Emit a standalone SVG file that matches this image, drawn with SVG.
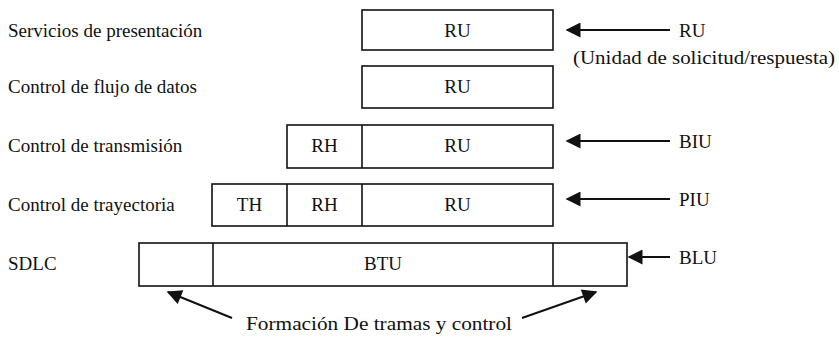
<svg xmlns="http://www.w3.org/2000/svg" width="839" height="350" viewBox="0 0 839 350">
<style>
text{font-family:"Liberation Serif","Times New Roman",serif;font-size:19px;fill:#111}
.c{text-anchor:middle}
.b{fill:#fff;stroke:#111;stroke-width:1.6}
.a{stroke:#111;stroke-width:2;fill:none}
</style>
<defs>
<marker id="ahl" viewBox="0 0 10 10" refX="9" refY="5" markerWidth="16" markerHeight="15" markerUnits="userSpaceOnUse" orient="auto">
<path d="M0,0 L10,5 L0,10 z" fill="#111"/>
</marker>
</defs>
<g id="layer-labels">
<text x="8" y="37">Servicios de presentación</text>
<text x="8" y="93">Control de flujo de datos</text>
<text x="8" y="152">Control de transmisión</text>
<text x="8" y="211">Control de trayectoria</text>
<text x="8" y="270">SDLC</text>
</g>
<g id="row1">
<rect class="b" x="362" y="10" width="191" height="40"/>
<text class="c" x="457.5" y="37">RU</text>
</g>
<g id="row2">
<rect class="b" x="362" y="66" width="191" height="42"/>
<text class="c" x="457.5" y="93">RU</text>
</g>
<g id="row3">
<rect class="b" x="287" y="125" width="266" height="43"/>
<line class="b" x1="362" y1="125" x2="362" y2="168"/>
<text class="c" x="324.5" y="152">RH</text>
<text class="c" x="457.5" y="152">RU</text>
</g>
<g id="row4">
<rect class="b" x="212" y="184" width="341" height="42"/>
<line class="b" x1="287" y1="184" x2="287" y2="226"/>
<line class="b" x1="362" y1="184" x2="362" y2="226"/>
<text class="c" x="249.5" y="211">TH</text>
<text class="c" x="324.5" y="211">RH</text>
<text class="c" x="457.5" y="211">RU</text>
</g>
<g id="row5">
<rect class="b" x="139" y="243" width="488" height="43"/>
<line class="b" x1="213" y1="243" x2="213" y2="286"/>
<line class="b" x1="553" y1="243" x2="553" y2="286"/>
<text class="c" x="383" y="270">BTU</text>
</g>
<g id="unit-labels">
<text x="679" y="37">RU</text>
<text x="573" y="64" textLength="262" lengthAdjust="spacingAndGlyphs">(Unidad de solicitud/respuesta)</text>
<text x="679" y="148">BIU</text>
<text x="679" y="206">PIU</text>
<text x="679" y="264">BLU</text>
<text x="246" y="330" textLength="266" lengthAdjust="spacingAndGlyphs">Formación De tramas y control</text>
</g>
<g id="connectors">
<line class="a" x1="670" y1="30" x2="567" y2="30" marker-end="url(#ahl)"/>
<line class="a" x1="670" y1="141" x2="567" y2="141" marker-end="url(#ahl)"/>
<line class="a" x1="670" y1="199" x2="567" y2="199" marker-end="url(#ahl)"/>
<line class="a" x1="670" y1="257" x2="629" y2="257" marker-end="url(#ahl)"/>
<line class="a" x1="232" y1="318" x2="168" y2="292" marker-end="url(#ahl)"/>
<line class="a" x1="522" y1="318" x2="596" y2="292" marker-end="url(#ahl)"/>
</g>
</svg>
